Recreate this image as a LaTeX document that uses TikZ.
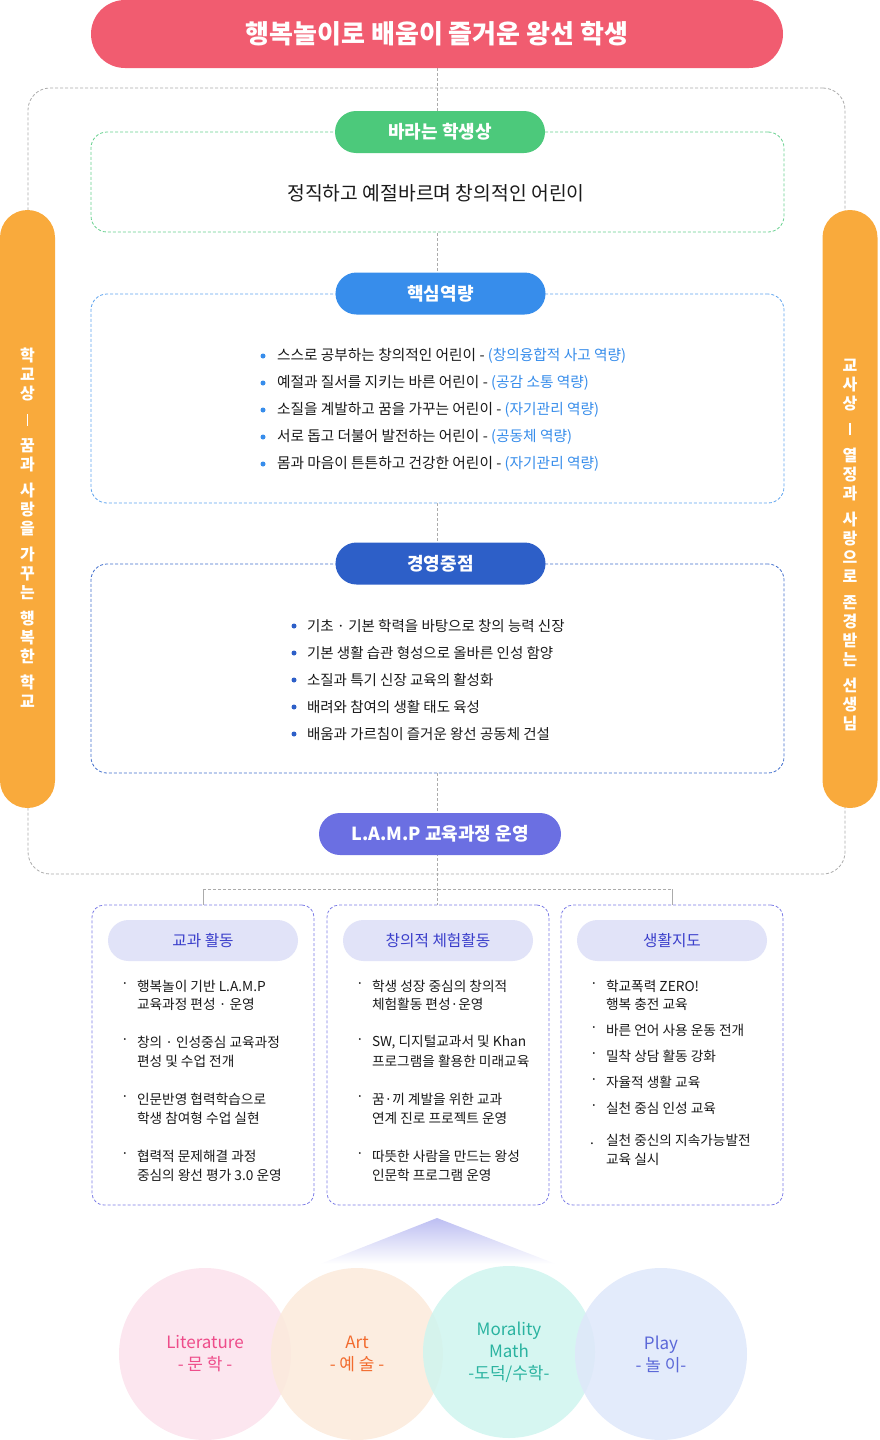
\documentclass[tikz,border=0pt]{standalone}
\usepackage{fontspec}
\setmainfont{Noto Sans CJK KR}
\usetikzlibrary{shapes.misc,backgrounds}
\definecolor{titlered}{HTML}{F15C70}
\definecolor{goalgreen}{HTML}{4CC97B}
\definecolor{coreblue}{HTML}{378DEB}
\definecolor{mgmtblue}{HTML}{2D5FC8}
\definecolor{lamppurple}{HTML}{6B6FE2}
\definecolor{barorange}{HTML}{F9AA3C}
\definecolor{headfill}{HTML}{E1E3F8}
\definecolor{headtext}{HTML}{3B3FCB}
\definecolor{boxline}{HTML}{7C7CE6}
\definecolor{guidegray}{HTML}{ABABAB}
\definecolor{bodytext}{HTML}{1A1A1A}
\definecolor{litpink}{HTML}{EE4C8A}
\definecolor{artorange}{HTML}{F26B2E}
\definecolor{moralteal}{HTML}{2AB3A0}
\definecolor{playblue}{HTML}{5B68D8}
\definecolor{litfill}{HTML}{FBE2EC}
\definecolor{artfill}{HTML}{FBEADB}
\definecolor{moralfill}{HTML}{CFF5EF}
\definecolor{playfill}{HTML}{DEE7FA}

\begin{document}
\begin{tikzpicture}[x=1pt, y=-1pt,
    every node/.style={inner sep=0pt, outer sep=0pt},
    pill/.style={rounded rectangle, fill=#1, text=white,
      font=\fontsize{18}{21}\selectfont\bfseries,
      minimum height=42pt, minimum width=210pt},
    frame/.style={draw=#1, fill=white, line width=0.8pt, dash pattern=on 3pt off 2pt,
      rounded corners=16pt, minimum width=693pt},
    guide/.style={draw=guidegray, line width=0.8pt, dash pattern=on 3pt off 2pt},
    stem/.style={draw=guidegray, line width=0.8pt},
    dot/.style={circle, fill=#1, minimum size=5pt},
    line/.style={anchor=west, text=bodytext, font=\fontsize{14.7}{17}\selectfont},
    item/.style={anchor=west, text=bodytext, font=\fontsize{13.7}{16}\selectfont},
    sidebar/.style={fill=barorange, rounded corners=27.5pt, minimum width=55pt, minimum height=598pt},
    sidetext/.style={text=white, align=center, font=\fontsize{16}{19}\selectfont\bfseries},
    subbox/.style={draw=boxline, fill=white, line width=0.8pt, dash pattern=on 3pt off 2pt,
      rounded corners=12pt, minimum width=222pt, minimum height=300pt},
    subhead/.style={rounded rectangle, fill=headfill, text=headtext,
      font=\fontsize{15.7}{18}\selectfont, minimum width=190pt, minimum height=41pt},
    bubble/.style={circle, fill=#1, fill opacity=0.85, text opacity=1, minimum size=172pt,
      align=center, font=\fontsize{17}{22}\selectfont},
  ]
  \useasboundingbox (0,0) rectangle (879,1440);

  \node[rounded rectangle, fill=titlered, text=white, minimum width=692pt, minimum height=68pt,
    font=\fontsize{26}{30}\selectfont\bfseries] (title) at (437,34) {행복놀이로 배움이 즐거운 왕선 학생};

  \node[draw=guidegray, line width=0.8pt, dash pattern=on 3pt off 2pt, rounded corners=22pt,
    minimum width=817pt, minimum height=786pt] (outer) at (436.5,481) {};

  \node[frame=goalgreen!85, minimum height=100pt] (goalbox) at (437.5,182) {};
  \node[pill=goalgreen] (goal) at (440,132) {바라는 학생상};
  \node[text=bodytext, font=\fontsize{19.3}{22}\selectfont] (goaltext) at (436,193) {정직하고 예절바르며 창의적인 어린이};

  \node[frame=coreblue!80, minimum height=209pt] (corebox) at (437.5,398.5) {};
  \node[pill=coreblue] (core) at (440.5,293.5) {핵심역량};
  \foreach \i/\y/\a/\b in {1/356/스스로 공부하는 창의적인 어린이/창의융합적 사고 역량,
      2/383/예절과 질서를 지키는 바른 어린이/공감 소통 역량,
      3/410/소질을 계발하고 꿈을 가꾸는 어린이/자기관리 역량,
      4/437/서로 돕고 더불어 발전하는 어린이/공동체 역량,
      5/464/몸과 마음이 튼튼하고 건강한 어린이/자기관리 역량}{
    \node[dot=coreblue] (cb\i) at (263,\y) {};
    \node[line] (c\i) at (277,\y) {\a{} - \textcolor{coreblue}{(\b)}};
  }

  \node[frame=mgmtblue!90, minimum height=209pt] (mgmtbox) at (437.5,668.5) {};
  \node[pill=mgmtblue] (mgmt) at (440.5,563.5) {경영중점};
  \foreach \i/\y/\a in {1/626/기초 · 기본 학력을 바탕으로 창의 능력 신장,
      2/653/기본 생활 습관 형성으로 올바른 인성 함양,
      3/680/소질과 특기 신장 교육의 활성화,
      4/707/배려와 참여의 생활 태도 육성,
      5/734/배움과 가르침이 즐거운 왕선 공동체 건설}{
    \node[dot=mgmtblue] (mb\i) at (294,\y) {};
    \node[line, font=\fontsize{14.5}{17}\selectfont] (m\i) at (307,\y) {\a};
  }

  \node[pill=lamppurple, minimum width=242pt] (lamp) at (440,834) {L.A.M.P 교육과정 운영};

  \node[sidebar] (schoolbar) at (27.5,509) {};
  \node[sidetext] (schooltext) at (27.5,528) {학\\교\\상\\[7pt]\rule{1.8pt}{12pt}\\[7pt]꿈\\과\\[7pt]사\\랑\\을\\[7pt]가\\꾸\\는\\[7pt]행\\복\\한\\[7pt]학\\교};
  \node[sidebar] (teacherbar) at (850,509) {};
  \node[sidetext] (teachertext) at (850,545) {교\\사\\상\\[7pt]\rule{1.8pt}{12pt}\\[7pt]열\\정\\과\\[7pt]사\\랑\\으\\로\\[7pt]존\\경\\받\\는\\[7pt]선\\생\\님};

  \node[subbox] (subjbox) at (203,1055) {};
  \node[subbox] (expbox) at (438,1055) {};
  \node[subbox] (lifebox) at (672,1055) {};
  \node[subhead] (subj) at (203,940.5) {교과 활동};
  \node[subhead] (exp) at (438,940.5) {창의적 체험활동};
  \node[subhead] (life) at (672,940.5) {생활지도};

  \foreach \y in {986,1042,1099,1156}{
    \node[item] (sd\y) at (121,\y) {·};
    \node[item] (ed\y) at (356,\y) {·};
  }
  \foreach \y/\t in {986/행복놀이 기반 L.A.M.P, 1004/교육과정 편성 · 운영,
      1042/창의 · 인성중심 교육과정, 1061/편성 및 수업 전개,
      1099/인문반영 협력학습으로, 1118/학생 참여형 수업 실현,
      1156/협력적 문제해결 과정, 1175/중심의 왕선 평가 3.0 운영}
    \node[item] (s\y) at (137,\y) {\t};
  \foreach \y/\t in {986/학생 성장 중심의 창의적, 1004/체험활동 편성·운영,
      1042/{SW, 디지털교과서 및 Khan}, 1061/프로그램을 활용한 미래교육,
      1099/꿈·끼 계발을 위한 교과, 1118/연계 진로 프로젝트 운영,
      1156/따뜻한 사람을 만드는 왕성, 1175/인문학 프로그램 운영}
    \node[item] (e\y) at (372,\y) {\t};
  \foreach \y in {986,1030,1056,1082,1108}
    \node[item] (ld\y) at (590,\y) {·};
  \node[item] (ld1146) at (590,1144) {.};
  \foreach \y/\t in {986/학교폭력 ZERO!, 1004/행복 충전 교육, 1030/바른 언어 사용 운동 전개,
      1056/밀착 상담 활동 강화, 1082/자율적 생활 교육, 1108/실천 중심 인성 교육,
      1140/실천 중신의 지속가능발전, 1159/교육 실시}
    \node[item] (l\y) at (606,\y) {\t};

  \coordinate (fork) at (437,889);
  \coordinate (peak) at (437,1218);
  \begin{pgfonlayer}{background}
    \draw[guide] (title.south -| fork) -- (expbox.north -| fork);
    \draw[guide] (subjbox.north |- fork) -- (lifebox.north |- fork);
    \draw[stem] (subjbox.north |- fork) -- (subjbox.north);
    \draw[stem] (lifebox.north |- fork) -- (lifebox.north);
  \end{pgfonlayer}

  \shade[top color=lamppurple!45, bottom color=white] (peak) -- (320,1264) -- (556,1264) -- cycle;

  \node[bubble=litfill, text=litpink] (lit) at (205,1354) {Literature\\- 문 학 -};
  \node[bubble=artfill, text=artorange] (art) at (357,1354) {Art\\- 예 술 -};
  \node[bubble=moralfill, text=moralteal] (moral) at (509,1352) {Morality\\Math\\-도덕/수학-};
  \node[bubble=playfill, text=playblue] (play) at (661,1354) {Play\\- 놀 이-};
\end{tikzpicture}
\end{document}
